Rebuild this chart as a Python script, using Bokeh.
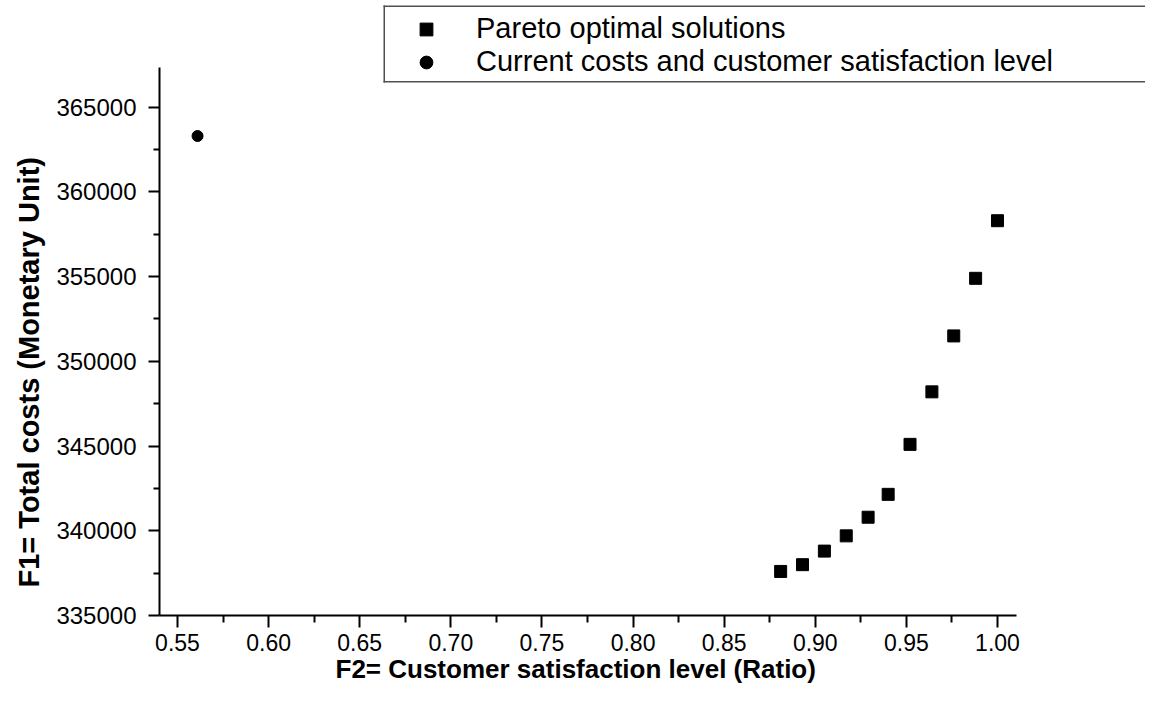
from bokeh.plotting import figure
from bokeh.models import (Range1d, FixedTicker, NumeralTickFormatter, Legend, LegendItem,
                          Title, BoxAnnotation)
from bokeh.embed import file_html
from bokeh.resources import INLINE

# ---- data ----
pareto_x = [0.881, 0.893, 0.905, 0.917, 0.929, 0.940, 0.952, 0.964, 0.976, 0.988, 1.000]
pareto_y = [337600, 338000, 338800, 339700, 340800, 342150, 345100, 348200, 351500, 354900, 358300]
current_x = [0.561]
current_y = [363300]

x_ticks = [0.55, 0.60, 0.65, 0.70, 0.75, 0.80, 0.85, 0.90, 0.95, 1.00]
x_minor = [0.575, 0.625, 0.675, 0.725, 0.775, 0.825, 0.875, 0.925, 0.975]
y_ticks = [335000, 340000, 345000, 350000, 355000, 360000, 365000]
y_minor = [337500, 342500, 347500, 352500, 357500, 362500]

x_title = "F2= Customer satisfaction level (Ratio)"
y_title = "F1= Total costs (Monetary Unit)"
legend_labels = ["Pareto optimal solutions", "Current costs and customer satisfaction level"]

FONT = "Liberation Sans"

# visible axis extents (the frame is larger so that the legend sits inside it)
X_AXIS_END = (0.5401, 1.0104)
Y_AXIS_END = (335000, 367343)

p = figure(width=1145, height=694, output_backend="svg", toolbar_location=None, title=None,
           x_range=Range1d(0.540122, 1.081226), y_range=Range1d(335000, 371297),
           min_border_left=159, min_border_right=0, min_border_top=0, min_border_bottom=79)
p.frame_width = 986
p.frame_height = 615
p.outline_line_color = None
p.xgrid.grid_line_color = None
p.ygrid.grid_line_color = None
p.background_fill_color = "white"
p.border_fill_color = "white"

r1 = p.scatter(pareto_x, pareto_y, marker="square", size=12, color="black")
r2 = p.scatter(current_x, current_y, marker="circle", size=11, color="black")

for ax in (p.xaxis[0], p.yaxis[0]):
    ax.axis_line_width = 2
    ax.axis_line_color = "black"
    ax.major_tick_line_width = 2
    ax.minor_tick_line_width = 2
    ax.major_tick_line_color = "black"
    ax.minor_tick_line_color = "black"
    ax.major_tick_in = 0
    ax.minor_tick_in = 0
    ax.major_label_text_font = FONT
    ax.major_label_text_color = "black"

xa = p.xaxis[0]
xa.bounds = X_AXIS_END
xa.ticker = FixedTicker(ticks=x_ticks, minor_ticks=x_minor)
xa.formatter = NumeralTickFormatter(format="0.00")
xa.major_tick_out = 12
xa.minor_tick_out = 7
xa.major_label_standoff = 6
xa.major_label_text_font_size = "23px"

ya = p.yaxis[0]
ya.bounds = Y_AXIS_END
ya.ticker = FixedTicker(ticks=y_ticks, minor_ticks=y_minor)
ya.formatter = NumeralTickFormatter(format="0")
ya.major_tick_out = 11
ya.minor_tick_out = 6
ya.major_label_standoff = 12
ya.major_label_text_font_size = "24px"

# axis titles as side-panel titles so they can be centred on the drawn axis extents
xt = Title(text=x_title, align="left", offset=176, vertical_align="top", standoff=0,
           text_font=FONT, text_font_style="bold", text_font_size="26px", text_color="black")
yt = Title(text=y_title, align="left", offset=28, vertical_align="top", standoff=13,
           text_font=FONT, text_font_style="bold", text_font_size="29px", text_color="black")
p.add_layout(xt, "below")
p.add_layout(yt, "left")

# legend frame: open to the right, as in the original (white panel + three thin edges)
def sbox(left, right, top, bottom, color, alpha=1.0):
    return BoxAnnotation(left=left, right=right, top=top, bottom=bottom,
                         left_units="screen", right_units="screen",
                         top_units="screen", bottom_units="screen",
                         fill_color=color, fill_alpha=alpha, line_color=None)

EDGE = "#505050"
p.add_layout(sbox(224, 1300, 610, 533, "white"))
p.add_layout(sbox(224, 1300, 610, 608.5, EDGE))
p.add_layout(sbox(224, 1300, 534.5, 533, EDGE))
p.add_layout(sbox(224, 225.5, 610, 533, EDGE))

legend = Legend(items=[LegendItem(label=legend_labels[0], renderers=[r1]),
                       LegendItem(label=legend_labels[1], renderers=[r2])],
                location=(228, 537))
legend.label_text_font = FONT
legend.label_text_font_size = "29px"
legend.label_text_color = "black"
legend.label_height = 32
legend.glyph_height = 32
legend.glyph_width = 78
legend.label_standoff = 11
legend.spacing = 0
legend.padding = 4
legend.margin = 0
legend.border_line_color = None
legend.background_fill_color = None
legend.background_fill_alpha = 0.0
p.add_layout(legend)

open("out.html", "w").write(file_html(p, INLINE))
